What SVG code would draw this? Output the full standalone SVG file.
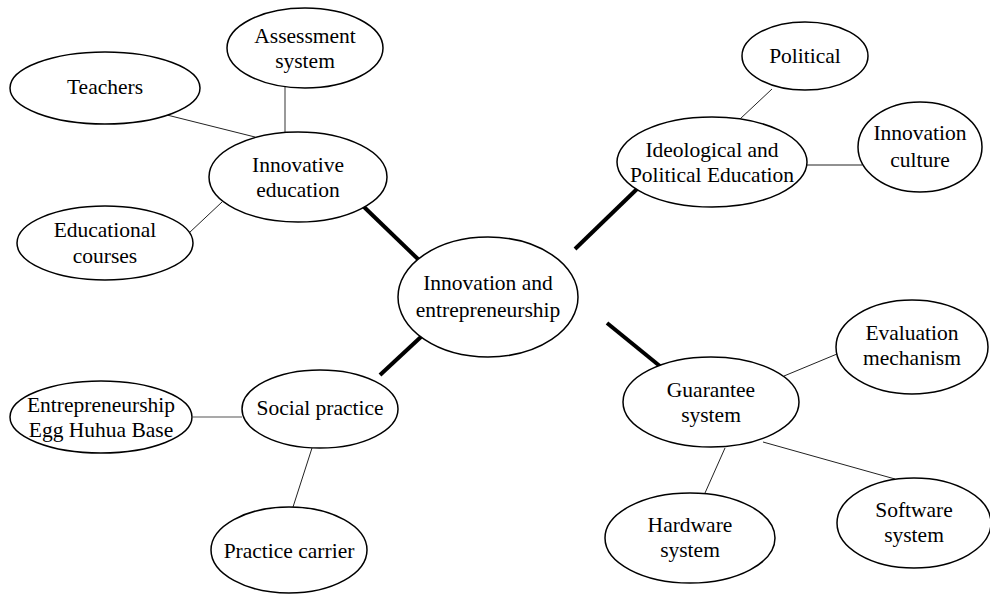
<svg xmlns="http://www.w3.org/2000/svg" width="990" height="595" viewBox="0 0 990 595">
  <style>
    .node ellipse { fill: #ffffff; stroke: #000000; stroke-width: 1.5; }
    .node text { font-family: 'Liberation Serif', 'Times New Roman', 'DejaVu Serif', serif; font-size: 21.5px; fill: #000000; text-anchor: middle; }
    .thin { stroke: #222222; stroke-width: 1; fill: none; }
    .grey { stroke: #555555; stroke-width: 1.2; fill: none; }
    .thick { stroke: #000000; stroke-width: 4; fill: none; }
  </style>
  <rect x="0" y="0" width="990" height="595" fill="#ffffff"/>

  <!-- connectors -->
  <g id="connectors">
    <line class="thick" x1="363" y1="206" x2="421" y2="262"/>
    <line class="thick" x1="637" y1="189" x2="575" y2="249"/>
    <line class="thick" x1="423" y1="335" x2="380" y2="375"/>
    <line class="thick" x1="607" y1="323" x2="661" y2="367"/>

    <line class="thin" x1="167" y1="115" x2="255" y2="137"/>
    <line class="grey" x1="285" y1="87" x2="285" y2="133"/>
    <line class="thin" x1="189" y1="233" x2="222" y2="202"/>

    <line class="thin" x1="772" y1="89" x2="740" y2="119"/>
    <line class="thin" x1="807" y1="165" x2="862" y2="165"/>

    <line class="grey" x1="193" y1="417" x2="242" y2="417"/>
    <line class="thin" x1="312" y1="448" x2="293" y2="507"/>

    <line class="thin" x1="784" y1="376" x2="837" y2="354"/>
    <line class="thin" x1="763" y1="442" x2="895" y2="479"/>
    <line class="thin" x1="725" y1="448" x2="705" y2="493"/>
  </g>

  <!-- central node -->
  <g id="innovation-entrepreneurship" class="node">
    <ellipse cx="488" cy="297" rx="90" ry="60"/>
    <text x="488" y="290" font-family="Liberation Serif, serif">Innovation and</text>
    <text x="488" y="317" font-family="Liberation Serif, serif">entrepreneurship</text>
  </g>

  <!-- innovative education branch -->
  <g id="innovative-education" class="node">
    <ellipse cx="298" cy="177" rx="89" ry="45"/>
    <text x="298" y="172">Innovative</text>
    <text x="298" y="197">education</text>
  </g>
  <g id="assessment-system" class="node">
    <ellipse cx="305" cy="48" rx="78" ry="40"/>
    <text x="305" y="43">Assessment</text>
    <text x="305" y="68">system</text>
  </g>
  <g id="teachers" class="node">
    <ellipse cx="105" cy="88" rx="95" ry="36"/>
    <text x="105" y="94">Teachers</text>
  </g>
  <g id="educational-courses" class="node">
    <ellipse cx="105" cy="243" rx="88" ry="37"/>
    <text x="105" y="237">Educational</text>
    <text x="105" y="263">courses</text>
  </g>

  <!-- ideological and political education branch -->
  <g id="ideological-political-education" class="node">
    <ellipse cx="712" cy="162" rx="95" ry="45"/>
    <text x="712" y="157">Ideological and</text>
    <text x="712" y="182">Political Education</text>
  </g>
  <g id="political" class="node">
    <ellipse cx="805" cy="56" rx="63" ry="34"/>
    <text x="805" y="63">Political</text>
  </g>
  <g id="innovation-culture" class="node">
    <ellipse cx="920" cy="147" rx="62" ry="45"/>
    <text x="920" y="140">Innovation</text>
    <text x="920" y="167">culture</text>
  </g>

  <!-- social practice branch -->
  <g id="social-practice" class="node">
    <ellipse cx="320" cy="409" rx="78" ry="39"/>
    <text x="320" y="415">Social practice</text>
  </g>
  <g id="entrepreneurship-egg-huhua-base" class="node">
    <ellipse cx="101" cy="417" rx="91" ry="36"/>
    <text x="101" y="412">Entrepreneurship</text>
    <text x="101" y="437">Egg Huhua Base</text>
  </g>
  <g id="practice-carrier" class="node">
    <ellipse cx="289" cy="550" rx="78" ry="43"/>
    <text x="289" y="558">Practice carrier</text>
  </g>

  <!-- guarantee system branch -->
  <g id="guarantee-system" class="node">
    <ellipse cx="711" cy="402" rx="88" ry="45"/>
    <text x="711" y="397">Guarantee</text>
    <text x="711" y="422">system</text>
  </g>
  <g id="evaluation-mechanism" class="node">
    <ellipse cx="912" cy="347" rx="76" ry="47"/>
    <text x="912" y="340">Evaluation</text>
    <text x="912" y="365">mechanism</text>
  </g>
  <g id="software-system" class="node">
    <ellipse cx="914" cy="523" rx="77" ry="45"/>
    <text x="914" y="517">Software</text>
    <text x="914" y="542">system</text>
  </g>
  <g id="hardware-system" class="node">
    <ellipse cx="690" cy="538" rx="85" ry="45"/>
    <text x="690" y="532">Hardware</text>
    <text x="690" y="557">system</text>
  </g>
</svg>
